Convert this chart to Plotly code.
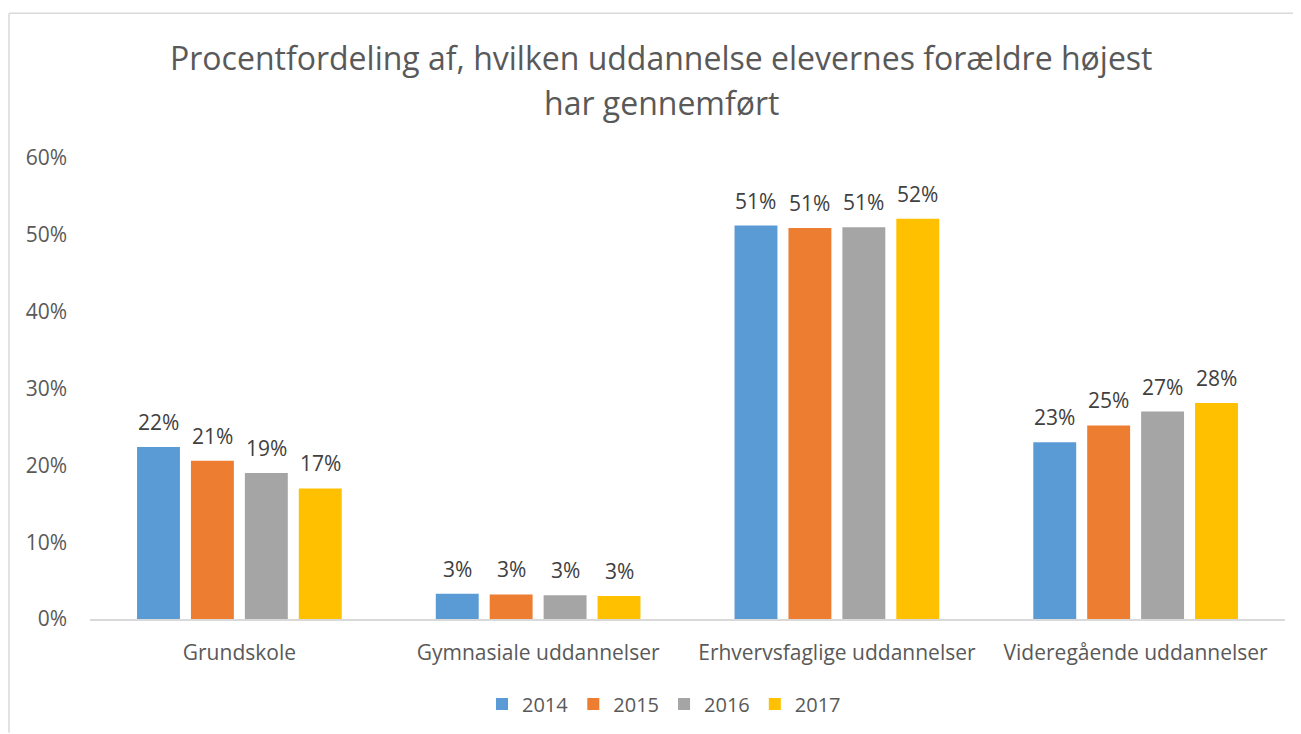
import plotly.graph_objects as go

categories = ["Grundskole", "Gymnasiale uddannelser", "Erhvervsfaglige uddannelser", "Videregående uddannelser"]
years = ["2014", "2015", "2016", "2017"]
v2014 = [0.224, 0.033, 0.512, 0.230]
v2015 = [0.206, 0.032, 0.509, 0.252]
v2016 = [0.190, 0.031, 0.510, 0.270]
v2017 = [0.170, 0.030, 0.521, 0.281]
colors = ["#5B9BD5", "#ED7D31", "#A5A5A5", "#FFC000"]
title_line1 = "Procentfordeling af, hvilken uddannelse elevernes forældre højest"
title_line2 = "har gennemført"

FONT = "Open Sans"
OFF = 8  # page body margin offset
W, H = 1301 - OFF, 734 - OFF
L, T = 90 - OFF, 158 - OFF
R = W - (1285 - OFF)
B = H - (620 - OFF)
pw, ph = W - L - R, H - T - B
SLOT = 54  # px per bar slot within a group

series = [v2014, v2015, v2016, v2017]

fig = go.Figure()
annotations = []
for i, (name, vals, col) in enumerate(zip(years, series, colors)):
    fig.add_trace(go.Bar(
        x=categories, y=vals, name=name, marker_color=col, marker_line_width=0,
    ))
    for cat, v in zip(categories, vals):
        annotations.append(dict(
            x=cat, y=v, xref="x", yref="y", text=f"{round(v * 100)}%",
            showarrow=False, xanchor="center", yanchor="middle",
            xshift=(i - 1.5) * SLOT, yshift=25,
            font=dict(family=FONT, size=21, color="#404040"),
        ))

def px2paper_x(px):
    return (px - OFF - L) / pw

def py2paper_y(py):
    return (H - B - (py - OFF)) / ph

annotations += [
    dict(text=title_line1, xref="paper", yref="paper", x=px2paper_x(661), y=py2paper_y(57),
         xanchor="center", yanchor="middle", showarrow=False,
         font=dict(family=FONT, size=32, color="#595959")),
    dict(text=title_line2, xref="paper", yref="paper", x=px2paper_x(661), y=py2paper_y(102),
         xanchor="center", yanchor="middle", showarrow=False,
         font=dict(family=FONT, size=32, color="#595959")),
]

fig.update_layout(
    width=W, height=H,
    margin=dict(l=L, r=R, t=T, b=B),
    paper_bgcolor="white", plot_bgcolor="white",
    barmode="group", bargap=0.278, bargroupgap=0.204,
    font=dict(family=FONT, color="#595959"),
    showlegend=True,
    legend=dict(orientation="h", x=px2paper_x(664), xanchor="center", y=py2paper_y(704), yanchor="middle",
                font=dict(family=FONT, size=20, color="#595959"), itemwidth=30,
                traceorder="normal"),
    xaxis=dict(showline=True, linecolor="#D9D9D9", linewidth=1.5, showgrid=False,
               tickfont=dict(family=FONT, size=21, color="#595959"), ticks="",
               ticklabelstandoff=14),
    yaxis=dict(range=[0, 0.6], dtick=0.1, tickformat=".0%", showgrid=False, zeroline=False,
               showline=False, tickfont=dict(family=FONT, size=21, color="#595959"),
               ticklabelstandoff=22),
    shapes=[
        dict(type="line", xref="paper", yref="paper", x0=px2paper_x(9), x1=px2paper_x(1301),
             y0=py2paper_y(13), y1=py2paper_y(13), line=dict(color="#D9D9D9", width=1.5)),
        dict(type="line", xref="paper", yref="paper", x0=px2paper_x(9), x1=px2paper_x(9),
             y0=py2paper_y(13), y1=py2paper_y(734), line=dict(color="#D9D9D9", width=1.5)),
    ],
    annotations=annotations,
)

fig.write_html("out.html")
